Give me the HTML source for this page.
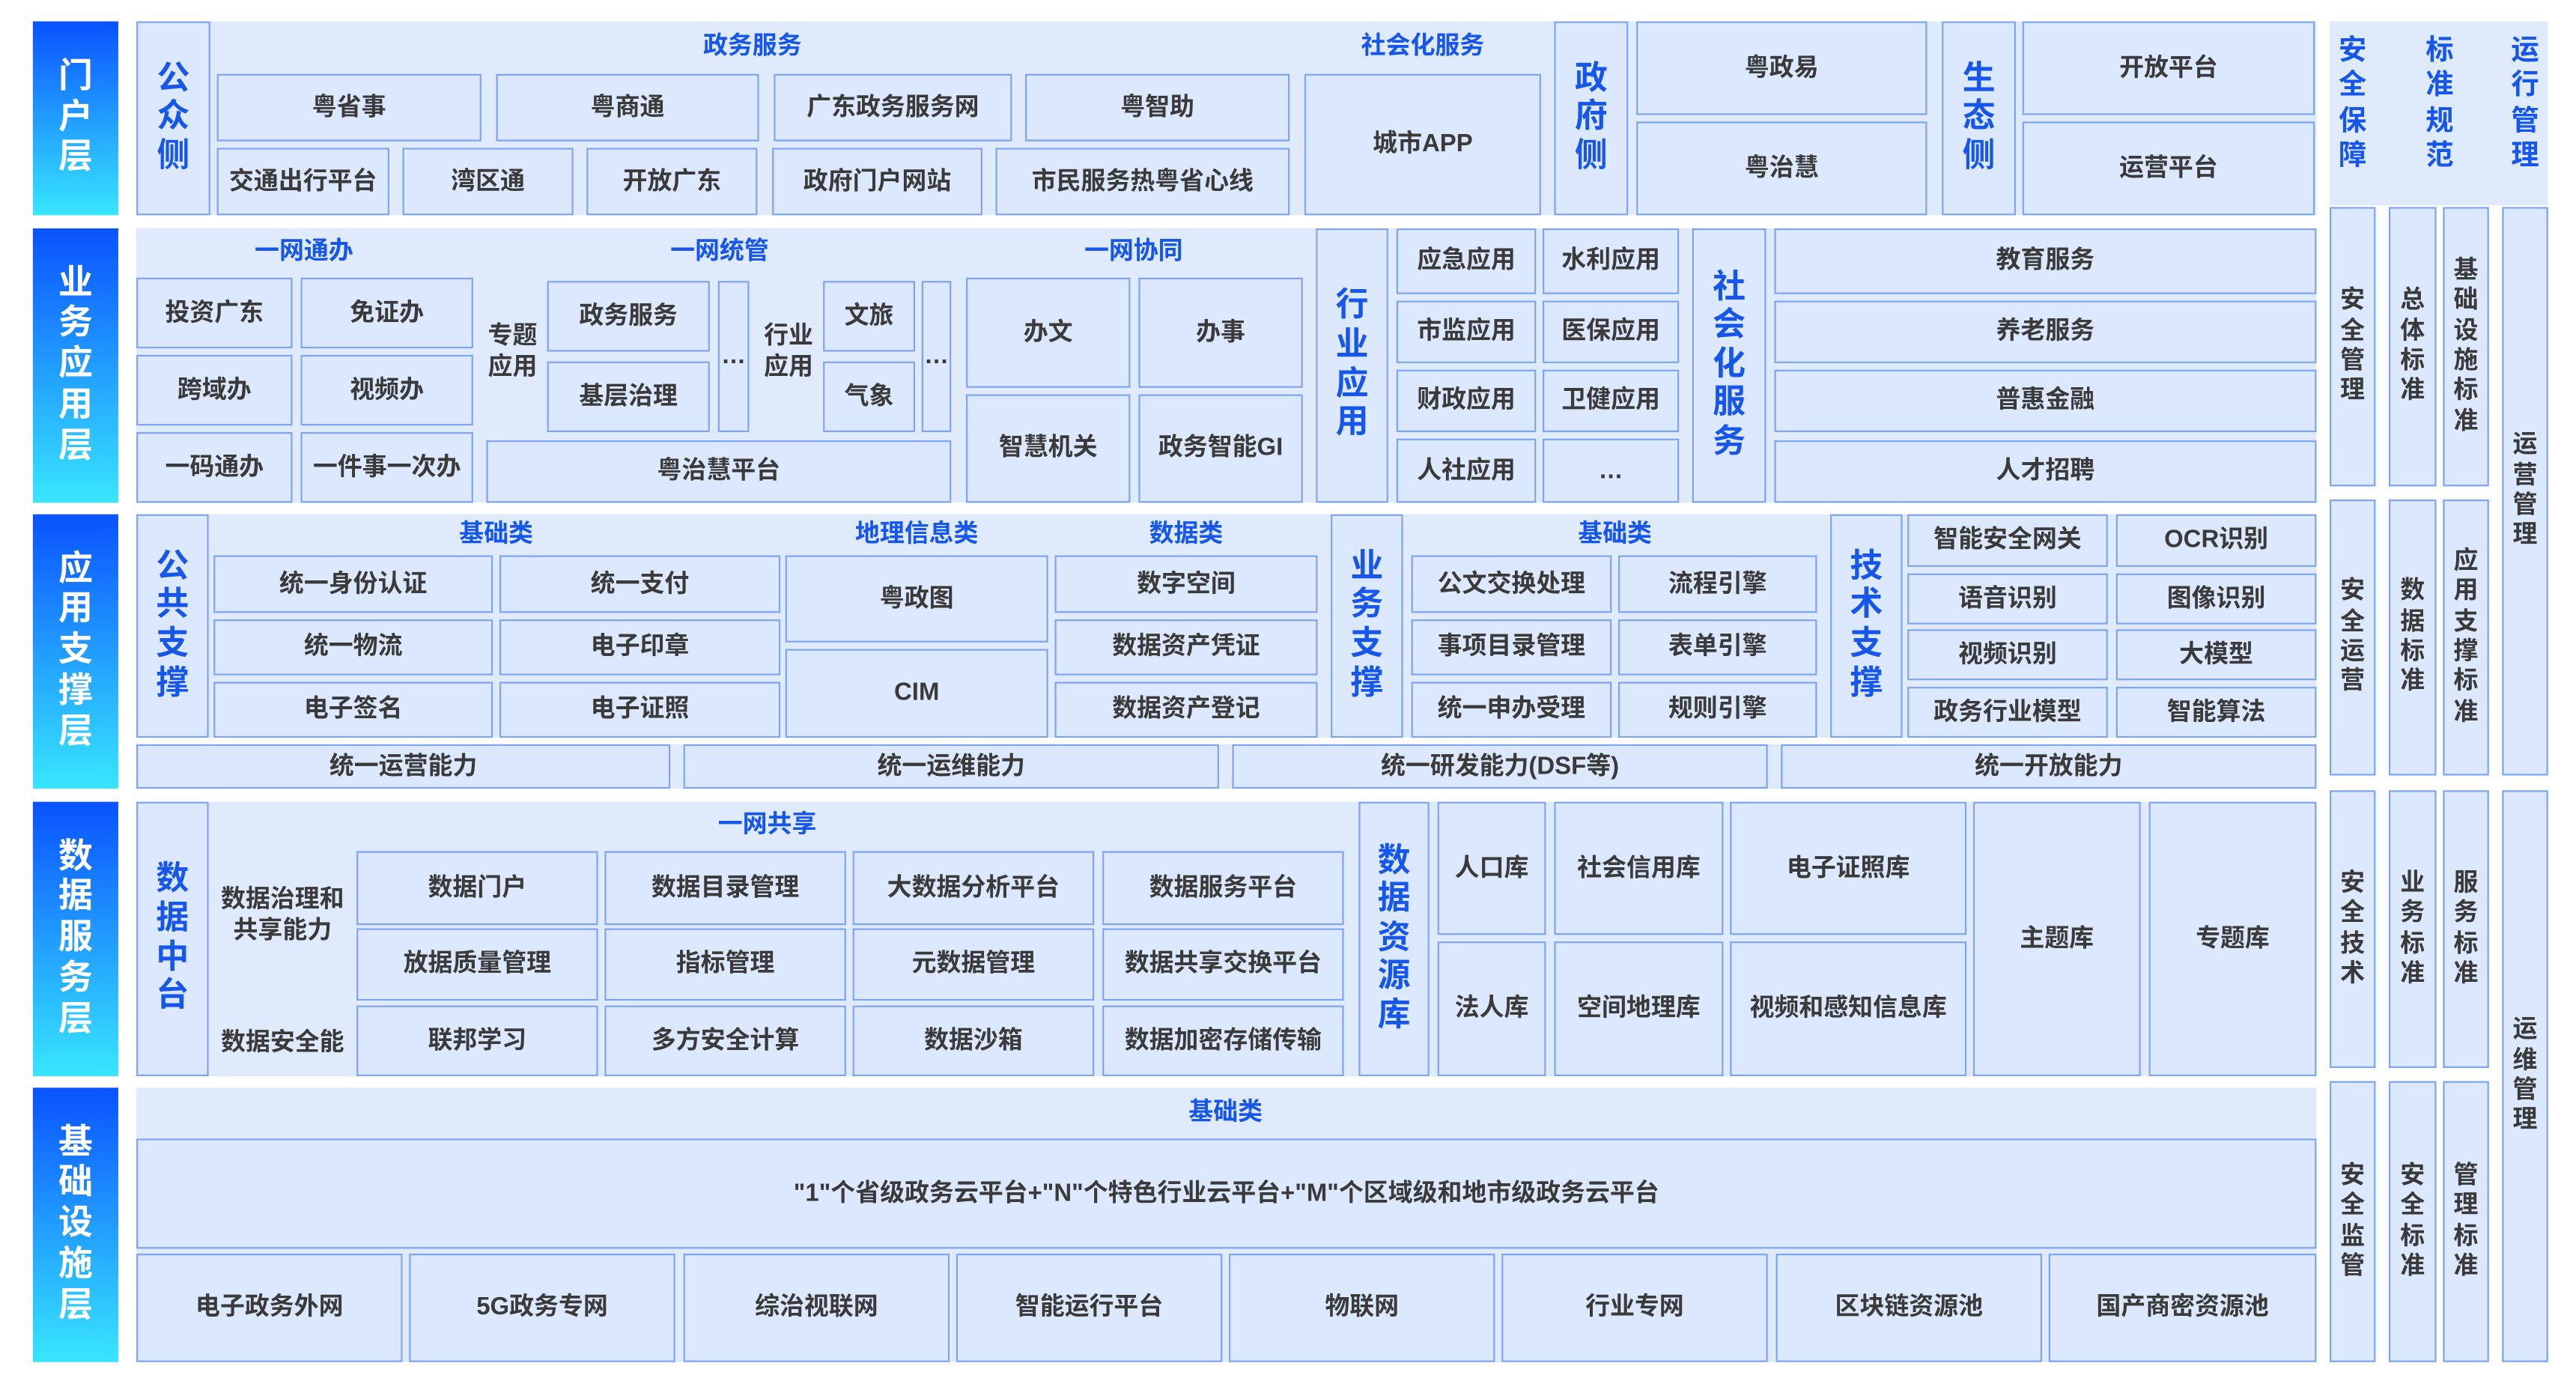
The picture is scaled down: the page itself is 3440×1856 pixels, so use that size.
<!DOCTYPE html>
<html><head><meta charset="utf-8"><style>
html,body{margin:0;padding:0;background:#fff;width:3440px;height:1856px;overflow:hidden}
.s{position:absolute;left:0;top:0;width:1568px;height:846px;transform:scale(2.1939);transform-origin:0 0;font-family:"Liberation Sans","Noto Sans CJK SC",sans-serif}
.s div{position:absolute;box-sizing:border-box}
.c{background:#dfeafd}
.b{background:#dce8fd;border:0.7px solid #7ea4f4;display:flex;align-items:center;justify-content:center;text-align:center;color:#3a3a3a;font-weight:bold;font-size:15px;line-height:1.2}
.h{color:#1656ea;font-weight:bold;font-size:15px;transform:translate(-50%,-50%);white-space:nowrap}
.v{color:#1656ea;font-size:20px;line-height:1.18}
.g{color:#3a3a3a;font-weight:bold;font-size:15px;line-height:1.25;text-align:center}
.L{background:linear-gradient(#0a52ff,#38e6ff);color:#fff;font-weight:bold;font-size:21px;line-height:1.18;display:flex;align-items:center;justify-content:center;text-align:center}
.r{font-size:15px;line-height:1.23}
.bh{color:#1656ea;font-weight:bold;font-size:17px;line-height:1.25;text-align:center}
</style></head><body><div class="s">
<!-- layer labels -->
<div class="L" style="left:20px;top:13px;width:52px;height:118px">门<br>户<br>层</div>
<div class="L" style="left:20px;top:139px;width:52px;height:167px">业<br>务<br>应<br>用<br>层</div>
<div class="L" style="left:20px;top:313px;width:52px;height:167px">应<br>用<br>支<br>撑<br>层</div>
<div class="L" style="left:20px;top:488px;width:52px;height:167px">数<br>据<br>服<br>务<br>层</div>
<div class="L" style="left:20px;top:662px;width:52px;height:167px">基<br>础<br>设<br>施<br>层</div>

<!-- containers -->
<div class="c" style="left:83px;top:13px;width:1327px;height:118px"></div>
<div class="c" style="left:83px;top:139px;width:1327px;height:167px"></div>
<div class="c" style="left:83px;top:313px;width:1327px;height:167px"></div>
<div class="c" style="left:83px;top:488px;width:1327px;height:167px"></div>
<div class="c" style="left:83px;top:662px;width:1327px;height:167px"></div>
<div class="c" style="left:1418px;top:13px;width:133px;height:112px"></div>

<!-- Row1 -->
<div class="b v" style="left:83px;top:13px;width:45px;height:118px;color:#1656ea">公<br>众<br>侧</div>
<div class="h" style="left:458px;top:27px">政务服务</div>
<div class="b" style="left:132px;top:45px;width:161px;height:41px">粤省事</div>
<div class="b" style="left:302px;top:45px;width:160px;height:41px">粤商通</div>
<div class="b" style="left:471px;top:45px;width:145px;height:41px">广东政务服务网</div>
<div class="b" style="left:624px;top:45px;width:161px;height:41px">粤智助</div>
<div class="b" style="left:132px;top:90px;width:105px;height:41px">交通出行平台</div>
<div class="b" style="left:245px;top:90px;width:104px;height:41px">湾区通</div>
<div class="b" style="left:357px;top:90px;width:104px;height:41px">开放广东</div>
<div class="b" style="left:470px;top:90px;width:128px;height:41px">政府门户网站</div>
<div class="b" style="left:606px;top:90px;width:179px;height:41px">市民服务热粤省心线</div>
<div class="h" style="left:866px;top:27px">社会化服务</div>
<div class="b" style="left:794px;top:45px;width:144px;height:86px">城市APP</div>
<div class="b v" style="left:946px;top:13px;width:45px;height:118px;color:#1656ea">政<br>府<br>侧</div>
<div class="b" style="left:996px;top:13px;width:177px;height:57px">粤政易</div>
<div class="b" style="left:996px;top:74px;width:177px;height:57px">粤治慧</div>
<div class="b v" style="left:1182px;top:13px;width:45px;height:118px;color:#1656ea">生<br>态<br>侧</div>
<div class="b" style="left:1231px;top:13px;width:178px;height:57px">开放平台</div>
<div class="b" style="left:1231px;top:74px;width:178px;height:57px">运营平台</div>

<!-- right headers -->
<div class="bh" style="left:1418px;top:20px;width:28px">安<br>全<br>保<br>障</div>
<div class="bh" style="left:1471px;top:20px;width:28px">标<br>准<br>规<br>范</div>
<div class="bh" style="left:1523px;top:20px;width:28px">运<br>行<br>管<br>理</div>
<div class="b r" style="left:1418px;top:126px;width:28px;height:170px">安<br>全<br>管<br>理</div>
<div class="b r" style="left:1418px;top:304px;width:28px;height:168px">安<br>全<br>运<br>营</div>
<div class="b r" style="left:1418px;top:481px;width:28px;height:169px">安<br>全<br>技<br>术</div>
<div class="b r" style="left:1418px;top:658px;width:28px;height:171px">安<br>全<br>监<br>管</div>
<div class="b r" style="left:1454px;top:126px;width:29px;height:170px">总<br>体<br>标<br>准</div>
<div class="b r" style="left:1454px;top:304px;width:29px;height:168px">数<br>据<br>标<br>准</div>
<div class="b r" style="left:1454px;top:481px;width:29px;height:169px">业<br>务<br>标<br>准</div>
<div class="b r" style="left:1454px;top:658px;width:29px;height:171px">安<br>全<br>标<br>准</div>
<div class="b r" style="left:1487px;top:126px;width:28px;height:170px">基<br>础<br>设<br>施<br>标<br>准</div>
<div class="b r" style="left:1487px;top:304px;width:28px;height:168px">应<br>用<br>支<br>撑<br>标<br>准</div>
<div class="b r" style="left:1487px;top:481px;width:28px;height:169px">服<br>务<br>标<br>准</div>
<div class="b r" style="left:1487px;top:658px;width:28px;height:171px">管<br>理<br>标<br>准</div>
<div class="b r" style="left:1523px;top:126px;width:28px;height:346px">运<br>营<br>管<br>理</div>
<div class="b r" style="left:1523px;top:481px;width:28px;height:348px">运<br>维<br>管<br>理</div>

<!-- Row2 -->
<div class="h" style="left:185px;top:152px">一网通办</div>
<div class="b" style="left:83px;top:169px;width:95px;height:43px">投资广东</div>
<div class="b" style="left:183px;top:169px;width:105px;height:43px">免证办</div>
<div class="b" style="left:83px;top:216px;width:95px;height:43px">跨域办</div>
<div class="b" style="left:183px;top:216px;width:105px;height:43px">视频办</div>
<div class="b" style="left:83px;top:263px;width:95px;height:43px">一码通办</div>
<div class="b" style="left:183px;top:263px;width:105px;height:43px">一件事一次办</div>
<div class="h" style="left:438px;top:152px">一网统管</div>
<div class="g" style="left:292px;top:196px;width:40px">专题<br>应用</div>
<div class="b" style="left:333px;top:171px;width:99px;height:43px">政务服务</div>
<div class="b" style="left:333px;top:220px;width:99px;height:43px">基层治理</div>
<div class="b" style="left:437px;top:171px;width:19px;height:92px">…</div>
<div class="g" style="left:460px;top:196px;width:40px">行业<br>应用</div>
<div class="b" style="left:501px;top:171px;width:56px;height:43px">文旅</div>
<div class="b" style="left:501px;top:220px;width:56px;height:43px">气象</div>
<div class="b" style="left:561px;top:171px;width:18px;height:92px">…</div>
<div class="b" style="left:296px;top:268px;width:283px;height:38px">粤治慧平台</div>
<div class="h" style="left:690px;top:152px">一网协同</div>
<div class="b" style="left:588px;top:169px;width:100px;height:67px">办文</div>
<div class="b" style="left:693px;top:169px;width:100px;height:67px">办事</div>
<div class="b" style="left:588px;top:240px;width:100px;height:66px">智慧机关</div>
<div class="b" style="left:693px;top:240px;width:100px;height:66px">政务智能GI</div>
<div class="b v" style="left:801px;top:139px;width:44px;height:167px;color:#1656ea">行<br>业<br>应<br>用</div>
<div class="b" style="left:850px;top:139px;width:85px;height:40px">应急应用</div>
<div class="b" style="left:939px;top:139px;width:83px;height:40px">水利应用</div>
<div class="b" style="left:850px;top:183px;width:85px;height:38px">市监应用</div>
<div class="b" style="left:939px;top:183px;width:83px;height:38px">医保应用</div>
<div class="b" style="left:850px;top:225px;width:85px;height:38px">财政应用</div>
<div class="b" style="left:939px;top:225px;width:83px;height:38px">卫健应用</div>
<div class="b" style="left:850px;top:267px;width:85px;height:39px">人社应用</div>
<div class="b" style="left:939px;top:267px;width:83px;height:39px">…</div>
<div class="b v" style="left:1030px;top:139px;width:45px;height:167px;color:#1656ea">社<br>会<br>化<br>服<br>务</div>
<div class="b" style="left:1080px;top:139px;width:330px;height:40px">教育服务</div>
<div class="b" style="left:1080px;top:183px;width:330px;height:38px">养老服务</div>
<div class="b" style="left:1080px;top:225px;width:330px;height:38px">普惠金融</div>
<div class="b" style="left:1080px;top:268px;width:330px;height:38px">人才招聘</div>

<!-- Row3 -->
<div class="b v" style="left:83px;top:313px;width:44px;height:136px;color:#1656ea">公<br>共<br>支<br>撑</div>
<div class="h" style="left:302px;top:324px">基础类</div>
<div class="b" style="left:130px;top:338px;width:170px;height:35px">统一身份认证</div>
<div class="b" style="left:304px;top:338px;width:171px;height:35px">统一支付</div>
<div class="b" style="left:130px;top:377px;width:170px;height:34px">统一物流</div>
<div class="b" style="left:304px;top:377px;width:171px;height:34px">电子印章</div>
<div class="b" style="left:130px;top:415px;width:170px;height:34px">电子签名</div>
<div class="b" style="left:304px;top:415px;width:171px;height:34px">电子证照</div>
<div class="h" style="left:558px;top:324px">地理信息类</div>
<div class="b" style="left:478px;top:338px;width:160px;height:53px">粤政图</div>
<div class="b" style="left:478px;top:395px;width:160px;height:54px">CIM</div>
<div class="h" style="left:722px;top:324px">数据类</div>
<div class="b" style="left:642px;top:338px;width:160px;height:35px">数字空间</div>
<div class="b" style="left:642px;top:377px;width:160px;height:34px">数据资产凭证</div>
<div class="b" style="left:642px;top:415px;width:160px;height:34px">数据资产登记</div>
<div class="b v" style="left:810px;top:313px;width:44px;height:136px;color:#1656ea">业<br>务<br>支<br>撑</div>
<div class="h" style="left:983px;top:324px">基础类</div>
<div class="b" style="left:859px;top:338px;width:122px;height:35px">公文交换处理</div>
<div class="b" style="left:985px;top:338px;width:121px;height:35px">流程引擎</div>
<div class="b" style="left:859px;top:377px;width:122px;height:34px">事项目录管理</div>
<div class="b" style="left:985px;top:377px;width:121px;height:34px">表单引擎</div>
<div class="b" style="left:859px;top:415px;width:122px;height:34px">统一申办受理</div>
<div class="b" style="left:985px;top:415px;width:121px;height:34px">规则引擎</div>
<div class="b v" style="left:1114px;top:313px;width:44px;height:136px;color:#1656ea">技<br>术<br>支<br>撑</div>
<div class="b" style="left:1161px;top:313px;width:122px;height:32px">智能安全网关</div>
<div class="b" style="left:1288px;top:313px;width:122px;height:32px">OCR识别</div>
<div class="b" style="left:1161px;top:349px;width:122px;height:31px">语音识别</div>
<div class="b" style="left:1288px;top:349px;width:122px;height:31px">图像识别</div>
<div class="b" style="left:1161px;top:383px;width:122px;height:31px">视频识别</div>
<div class="b" style="left:1288px;top:383px;width:122px;height:31px">大模型</div>
<div class="b" style="left:1161px;top:418px;width:122px;height:31px">政务行业模型</div>
<div class="b" style="left:1288px;top:418px;width:122px;height:31px">智能算法</div>
<div style="left:83px;top:449px;width:1327px;height:4px;background:#fff"></div>
<div class="b" style="left:83px;top:453px;width:325px;height:27px">统一运营能力</div>
<div class="b" style="left:416px;top:453px;width:326px;height:27px">统一运维能力</div>
<div class="b" style="left:750px;top:453px;width:326px;height:27px">统一研发能力(DSF等)</div>
<div class="b" style="left:1084px;top:453px;width:326px;height:27px">统一开放能力</div>

<!-- Row4 -->
<div class="b v" style="left:83px;top:488px;width:44px;height:167px;color:#1656ea">数<br>据<br>中<br>台</div>
<div class="h" style="left:467px;top:501px">一网共享</div>
<div class="g" style="left:128px;top:539px;width:88px">数据治理和<br>共享能力</div>
<div class="g" style="left:128px;top:626px;width:88px">数据安全能</div>
<div class="b" style="left:217px;top:518px;width:147px;height:45px">数据门户</div>
<div class="b" style="left:368px;top:518px;width:147px;height:45px">数据目录管理</div>
<div class="b" style="left:519px;top:518px;width:147px;height:45px">大数据分析平台</div>
<div class="b" style="left:671px;top:518px;width:147px;height:45px">数据服务平台</div>
<div class="b" style="left:217px;top:565px;width:147px;height:44px">放据质量管理</div>
<div class="b" style="left:368px;top:565px;width:147px;height:44px">指标管理</div>
<div class="b" style="left:519px;top:565px;width:147px;height:44px">元数据管理</div>
<div class="b" style="left:671px;top:565px;width:147px;height:44px">数据共享交换平台</div>
<div class="b" style="left:217px;top:612px;width:147px;height:43px">联邦学习</div>
<div class="b" style="left:368px;top:612px;width:147px;height:43px">多方安全计算</div>
<div class="b" style="left:519px;top:612px;width:147px;height:43px">数据沙箱</div>
<div class="b" style="left:671px;top:612px;width:147px;height:43px">数据加密存储传输</div>
<div class="b v" style="left:827px;top:488px;width:43px;height:167px;color:#1656ea">数<br>据<br>资<br>源<br>库</div>
<div class="b" style="left:875px;top:488px;width:66px;height:81px">人口库</div>
<div class="b" style="left:946px;top:488px;width:103px;height:81px">社会信用库</div>
<div class="b" style="left:1053px;top:488px;width:144px;height:81px">电子证照库</div>
<div class="b" style="left:875px;top:573px;width:66px;height:82px">法人库</div>
<div class="b" style="left:946px;top:573px;width:103px;height:82px">空间地理库</div>
<div class="b" style="left:1053px;top:573px;width:144px;height:82px">视频和感知信息库</div>
<div class="b" style="left:1201px;top:488px;width:102px;height:167px">主题库</div>
<div class="b" style="left:1308px;top:488px;width:102px;height:167px">专题库</div>

<!-- Row5 -->
<div class="h" style="left:746px;top:676px">基础类</div>
<div class="b" style="left:83px;top:693px;width:1327px;height:67px">"1"个省级政务云平台+"N"个特色行业云平台+"M"个区域级和地市级政务云平台</div>
<div class="b" style="left:83px;top:763px;width:162px;height:66px">电子政务外网</div>
<div class="b" style="left:249px;top:763px;width:162px;height:66px">5G政务专网</div>
<div class="b" style="left:416px;top:763px;width:162px;height:66px">综治视联网</div>
<div class="b" style="left:582px;top:763px;width:162px;height:66px">智能运行平台</div>
<div class="b" style="left:748px;top:763px;width:162px;height:66px">物联网</div>
<div class="b" style="left:914px;top:763px;width:162px;height:66px">行业专网</div>
<div class="b" style="left:1081px;top:763px;width:162px;height:66px">区块链资源池</div>
<div class="b" style="left:1247px;top:763px;width:163px;height:66px">国产商密资源池</div>
</div></body></html>
